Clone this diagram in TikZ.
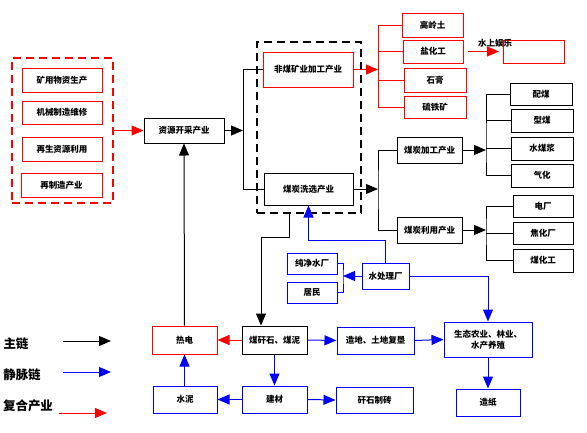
\documentclass[tikz,border=0pt]{standalone}
\usepackage{fontspec}
\setmainfont{Noto Sans CJK SC}
\usepackage{tikz}
\usetikzlibrary{positioning}
\usetikzlibrary{arrows, shapes, arrows.meta, calc}
\tikzstyle{box} = [draw=black, line width=1pt, inner sep=0pt, text centered, font=\fontsize{8.5}{11}\selectfont\bfseries]
\tikzstyle{redbox} = [box, draw=red]
\tikzstyle{bluebox} = [box, draw=blue]
\tikzstyle{dashbox} = [draw=black, line width=2.5pt, dash pattern=on 8pt off 5pt, inner sep=0pt]
\tikzstyle{line} = [line width=1pt, black]
\tikzstyle{arrow} = [line, -{Triangle[length=12pt,width=10pt]}]
\tikzstyle{redline} = [line, red]
\tikzstyle{redarrow} = [arrow, red]
\tikzstyle{blueline} = [line, blue]
\tikzstyle{bluearrow} = [arrow, blue]
\tikzstyle{legend} = [font=\fontsize{12.5}{14}\selectfont\bfseries, inner sep=0pt]

\begin{document}
\begin{tikzpicture}[x=1pt,y=-1pt]
      \useasboundingbox (0,0) rectangle (587,432);
      %%%%%%%%%%%%%%%%%%%%%%%%%%%%%%%%%%%%%%%
      \node (wai) at (62.5,130.5) [dashbox, draw=red, minimum width=101pt, minimum height=145pt] {};
      \node (kyw) at (62,80) [redbox, minimum width=80pt, minimum height=24pt] {矿用物资生产};
      \node (jxw) at (62,112.5) [redbox, minimum width=80pt, minimum height=23pt] {机械制造维修};
      \node (zsl) at (62,149) [redbox, minimum width=80pt, minimum height=24pt] {再生资源利用};
      \node (zzc) at (61.5,185) [redbox, minimum width=81pt, minimum height=24pt] {再制造产业};
      \node (zykc) at (184,130.5) [box, minimum width=80pt, minimum height=25pt] {资源开采产业};
      %%%%%%%%%%%%%%%%%%%%%%%%%%%%%%%%%%%%%%%
      \node (nei) at (309,127.5) [dashbox, minimum width=104pt, minimum height=171pt] {};
      \node (fmjg) at (308,69.5) [redbox, minimum width=90pt, minimum height=35pt] {非煤矿业加工产业};
      \node (mtxx) at (308.5,189) [box, minimum width=89pt, minimum height=32pt] {煤炭洗选产业};
      \node (glt) at (432.5,25) [redbox, minimum width=61pt, minimum height=24pt] {高岭土};
      \node (yhg) at (433,51.5) [redbox, minimum width=60pt, minimum height=23pt] {盐化工};
      \node (sgg) at (435,80) [redbox, minimum width=62pt, minimum height=24pt] {石膏};
      \node (ltk) at (435,107) [redbox, minimum width=62pt, minimum height=22pt] {硫铁矿};
      \node (kong) at (533.5,51.5) [redbox, minimum width=61pt, minimum height=23pt] {};
      \node (sslabel) at (495,43) [inner sep=0pt, font=\fontsize{8.5}{11}\selectfont\bfseries] {水上娱乐};
      %%%%%%%%%%%%%%%%%%%%%%%%%%%%%%%%%%%%%%%
      \node (mtjg) at (429.5,150) [box, minimum width=65pt, minimum height=26pt] {煤炭加工产业};
      \node (mtly) at (429.5,230) [box, minimum width=65pt, minimum height=26pt] {煤炭利用产业};
      \node (pm) at (541,94) [box, minimum width=62pt, minimum height=22pt] {配煤};
      \node (xm) at (542,120.5) [box, minimum width=62pt, minimum height=23pt] {型煤};
      \node (msj) at (542,148.5) [box, minimum width=62pt, minimum height=23pt] {水煤浆};
      \node (qh) at (542,175.5) [box, minimum width=62pt, minimum height=23pt] {气化};
      \node (dc) at (543,206) [box, minimum width=60pt, minimum height=22pt] {电厂};
      \node (jhc) at (543,233) [box, minimum width=60pt, minimum height=22pt] {焦化厂};
      \node (mhg) at (543,260.5) [box, minimum width=60pt, minimum height=23pt] {煤化工};
      %%%%%%%%%%%%%%%%%%%%%%%%%%%%%%%%%%%%%%%
      \node (cjs) at (312,263.5) [bluebox, minimum width=50pt, minimum height=21pt] {纯净水厂};
      \node (jm) at (312,292.5) [bluebox, minimum width=50pt, minimum height=21pt] {居民};
      \node (scl) at (385.5,276) [bluebox, minimum width=47pt, minimum height=26pt] {水处理厂};
      \node (rd) at (184.5,340) [redbox, minimum width=65pt, minimum height=28pt] {热电};
      \node (mgs) at (274.5,340) [box, minimum width=65pt, minimum height=28pt] {煤矸石、煤泥};
      \node (zd) at (375.5,340.5) [bluebox, minimum width=77pt, minimum height=27pt] {造地、土地复垦};
      \node (st) at (488,339.5) [bluebox, minimum width=88pt, minimum height=35pt, align=center] {生态农业、林业、\\水产养殖};
      \node (zzh) at (488,402.5) [bluebox, minimum width=64pt, minimum height=27pt] {造纸};
      \node (sn) at (185,399.5) [bluebox, minimum width=64pt, minimum height=27pt] {水泥};
      \node (jc) at (274.5,399.5) [bluebox, minimum width=65pt, minimum height=27pt] {建材};
      \node (gszz) at (374.5,400) [bluebox, minimum width=77pt, minimum height=26pt] {矸石制砖};
      %%%%%%%%%%%%%%%%%%%%%%%%%%%%%%%%%%%%%%%
      \node (zl) at (16,344) [legend] {主链};
      \node (jml) at (22,375) [legend] {静脉链};
      \node (fhc) at (28,406) [legend] {复合产业};
      \coordinate (l1) at (63,341);
      \coordinate (l2) at (111,341);
      \coordinate (l3) at (63,372);
      \coordinate (l4) at (111,372);
      \coordinate (l5) at (59,413);
      \coordinate (l6) at (107,413);
      \draw[arrow] (l1)--(l2);
      \draw[bluearrow] (l3)--(l4);
      \draw[redarrow] (l5)--(l6);
      %%%%%%%%%%%%%%%%%%%%%%%%%%%%%%%%%%%%%%%
      \coordinate (b0) at (243,130.5);
      \coordinate (b1) at (243,69.5);
      \coordinate (b2) at (243,189);
      \draw[redarrow] (wai.east)--(zykc.west);
      \draw[arrow] (zykc.east)--(b0);
      \draw[line] (fmjg.west)--(b1)--(b2)--(mtxx.west);
      \draw[arrow] (rd.north)--(zykc.south);
      %%%%%%%%%%%%%%%%%%%%%%%%%%%%%%%%%%%%%%%
      \coordinate (r0) at (378,69.5);
      \draw[redarrow] (fmjg.east)--(r0);
      \draw[redline] (r0 |- glt.west)--(r0 |- ltk.west);
      \draw[redline] (r0 |- glt.west)--(glt.west);
      \draw[redline] (r0 |- yhg.west)--(yhg.west);
      \draw[redline] (r0 |- sgg.west)--(sgg.west);
      \draw[redline] (r0 |- ltk.west)--(ltk.west);
      \coordinate (y1) at (468,51.5);
      \coordinate (y2) at (499,51.5);
      \draw[redarrow] (y1)--(y2);
      %%%%%%%%%%%%%%%%%%%%%%%%%%%%%%%%%%%%%%%
      \coordinate (m0) at (378,189);
      \draw[arrow] (mtxx.east)--(m0);
      \draw[line] (mtjg.west) -| (m0) |- (mtly.west);
      \coordinate (c0) at (486,150);
      \coordinate (c1) at (486,230);
      \draw[arrow] (mtjg.east)--(c0);
      \draw[arrow] (mtly.east)--(c1);
      \draw[line] (pm.west) -| (c0) |- (qh.west);
      \draw[line] (c0 |- xm.west)--(xm.west);
      \draw[line] (c0 |- msj.west)--(msj.west);
      \draw[line] (dc.west) -| (c1) |- (mhg.west);
      \draw[line] (c1 |- jhc.west)--(jhc.west);
      %%%%%%%%%%%%%%%%%%%%%%%%%%%%%%%%%%%%%%%
      \coordinate (d1) at (289,213);
      \coordinate (d2) at (289,237);
      \coordinate (d3) at (261,237);
      \draw[arrow] (d1)--(d2)--(d3)--(d3 |- mgs.north);
      \coordinate (w1) at (308.5,240);
      \coordinate (w2) at (385.5,240);
      \draw[bluearrow, {Triangle[length=12pt,width=10pt]}-] (mtxx.south)--(w1)--(w2)--(scl.north);
      \coordinate (k0) at (343,276);
      \draw[bluearrow] (scl.west)--(k0);
      \draw[blueline] (cjs.east) -| (k0) |- (jm.east);
      \draw[bluearrow] (scl.east) -| (st.north);
      %%%%%%%%%%%%%%%%%%%%%%%%%%%%%%%%%%%%%%%
      \draw[redarrow] (mgs.west)--(rd.east);
      \draw[bluearrow] (mgs.east)--(zd.west);
      \draw[bluearrow] (zd.east)--(st.west);
      \draw[bluearrow] (st.south)--(zzh.north);
      \draw[bluearrow] (mgs.south)--(jc.north);
      \draw[bluearrow] (jc.west)--(sn.east);
      \draw[bluearrow] (jc.east)--(gszz.west);
      \draw[bluearrow] (sn.north -| rd.south)--(rd.south);
      \end{tikzpicture}
\end{document}
